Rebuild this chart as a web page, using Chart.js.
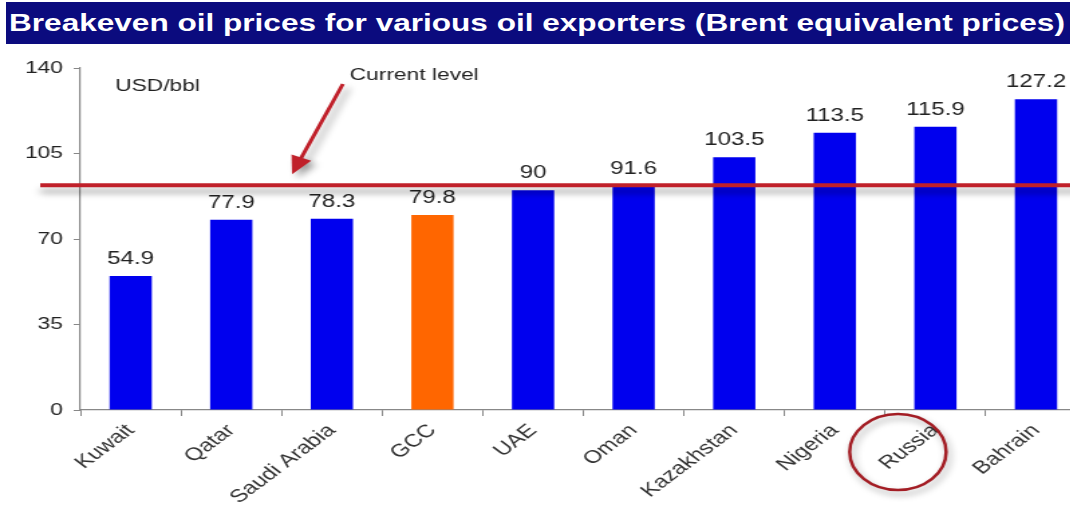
<!DOCTYPE html>
<html lang="en">

<head>
    <meta charset="UTF-8">
    <title>Breakeven oil prices</title>
    <script src="https://cdn.jsdelivr.net/npm/chart.js"></script>
    <style>
        html, body { margin: 0; padding: 0; background: #fff; }
        #wrap { position: relative; width: 1070px; height: 508px; overflow: hidden; }
        #title {
            position: absolute; left: 6px; top: 2px; width: 1064px; height: 42px;
            background: #0b0b7e; overflow: hidden;
        }
        #title span {
            position: absolute; left: 3px; top: 0; white-space: nowrap; color: #fff;
            font: bold 24px "Liberation Sans", Arial, sans-serif; line-height: 42px;
            transform-origin: 0 50%;
        }
        /* the drawing is made narrow and widened by css, which gives the wide lettering;
           the plot runs a little past the right edge and is clipped there */
        #chart { position: absolute; left: 0; top: 0; }
    </style>
</head>

<body>
    <div id="wrap">
        <canvas id="chart" width="816" height="508" style="width:1093.4px;height:508px"></canvas>
        <div id="title"><span id="titleText">Breakeven oil prices for various oil exporters (Brent equivalent prices)</span></div>
    </div>

    <script>
        // data
        const countries = ["Kuwait", "Qatar", "Saudi Arabia", "GCC", "UAE", "Oman", "Kazakhstan", "Nigeria", "Russia", "Bahrain"];
        const breakeven = [54.9, 77.9, 78.3, 79.8, 90, 91.6, 103.5, 113.5, 115.9, 127.2];
        const barColors = ["#0000ee", "#0000ee", "#0000ee", "#ff6600", "#0000ee", "#0000ee", "#0000ee", "#0000ee", "#0000ee", "#0000ee"];
        const yTicks = [0, 35, 70, 105, 140];
        const currentLevel = 92;

        const FONT = "'Liberation Sans', Arial, sans-serif";

        // stretch title to the band width
        const t = document.getElementById("titleText");
        t.style.transform = "scaleX(" + (1056 / t.offsetWidth) + ")";

        // value labels over each bar
        const valueLabels = {
            id: "valueLabels",
            afterDatasetsDraw(chart) {
                const { ctx } = chart;
                const meta = chart.getDatasetMeta(0);
                ctx.save();
                ctx.font = "18px " + FONT;
                ctx.fillStyle = "#222";
                ctx.textAlign = "center";
                ctx.textBaseline = "bottom";
                meta.data.forEach((bar, i) => {
                    ctx.fillText(String(breakeven[i]), bar.x, bar.y - 8);
                });
                ctx.restore();
            }
        };

        // red "current level" line, arrow, labels and the circle round Russia
        const overlay = {
            id: "overlay",
            afterDraw(chart) {
                const { ctx, scales } = chart;
                const y = scales.y.getPixelForValue(currentLevel);
                ctx.save();

                // line with soft shadow
                ctx.shadowColor = "rgba(0,0,0,0.35)";
                ctx.shadowBlur = 6;
                ctx.shadowOffsetY = 6;
                ctx.strokeStyle = "#c0202a";
                ctx.lineWidth = 4;
                ctx.beginPath();
                ctx.moveTo(30, y);
                ctx.lineTo(chart.width, y);
                ctx.stroke();

                // arrow pointing at the line
                const tipX = 218, tipY = y - 11;
                const tailX = 256, tailY = 84;
                const ang = Math.atan2(tipY - tailY, tipX - tailX);
                const ca = Math.cos(ang), sa = Math.sin(ang);
                ctx.shadowOffsetX = 4;
                ctx.shadowOffsetY = 4;
                ctx.lineWidth = 3;
                ctx.beginPath();
                ctx.moveTo(tailX, tailY);
                ctx.lineTo(tipX - 12 * ca, tipY - 12 * sa);
                ctx.stroke();
                ctx.fillStyle = "#c0202a";
                ctx.beginPath();
                ctx.moveTo(tipX, tipY);
                ctx.lineTo(tipX - 18 * ca + 8 * sa, tipY - 18 * sa - 8 * ca);
                ctx.lineTo(tipX - 18 * ca - 8 * sa, tipY - 18 * sa + 8 * ca);
                ctx.closePath();
                ctx.fill();

                // circle round the Russia label
                const rx = scales.x.getPixelForValue(8) - 28;
                ctx.shadowOffsetX = 2;
                ctx.shadowOffsetY = 4;
                ctx.strokeStyle = "#a31d24";
                ctx.lineWidth = 2.5;
                ctx.beginPath();
                ctx.ellipse(rx, 452, 36, 38, 0, 0, Math.PI * 2);
                ctx.stroke();

                // text labels
                ctx.shadowColor = "transparent";
                ctx.fillStyle = "#222";
                ctx.textBaseline = "middle";
                ctx.textAlign = "left";
                ctx.font = "17px " + FONT;
                ctx.fillText("Current level", 261, 75);
                ctx.fillText("USD/bbl", 86, 86);
                ctx.restore();
            }
        };

        new Chart(document.getElementById("chart"), {
            type: "bar",
            data: {
                labels: countries,
                datasets: [{
                    data: breakeven,
                    backgroundColor: barColors,
                    categoryPercentage: 0.42,
                    barPercentage: 1
                }]
            },
            options: {
                responsive: false,
                animation: false,
                events: [],
                devicePixelRatio: 1,
                layout: { padding: { top: 68, right: 5, left: 0, bottom: 0 } },
                plugins: { legend: { display: false }, tooltip: { enabled: false } },
                scales: {
                    x: {
                        afterFit(scale) { scale.height = 98; },
                        grid: { display: true, drawOnChartArea: false, offset: true, color: "#888", tickLength: 6 },
                        border: { color: "#888", width: 1.2 },
                        ticks: {
                            color: "#333",
                            font: { family: FONT, size: 18 },
                            minRotation: 45,
                            maxRotation: 45,
                            autoSkip: false,
                            padding: 4
                        }
                    },
                    y: {
                        min: 0,
                        max: 140,
                        afterFit(scale) { scale.width = 60; },
                        afterBuildTicks(scale) { scale.ticks = yTicks.map(v => ({ value: v })); },
                        grid: { display: true, drawOnChartArea: false, color: "#888", tickLength: 5 },
                        border: { color: "#888", width: 1.2 },
                        ticks: {
                            color: "#222",
                            font: { family: FONT, size: 17 },
                            padding: 8
                        }
                    }
                }
            },
            plugins: [valueLabels, overlay]
        });
    </script>
</body>

</html>
